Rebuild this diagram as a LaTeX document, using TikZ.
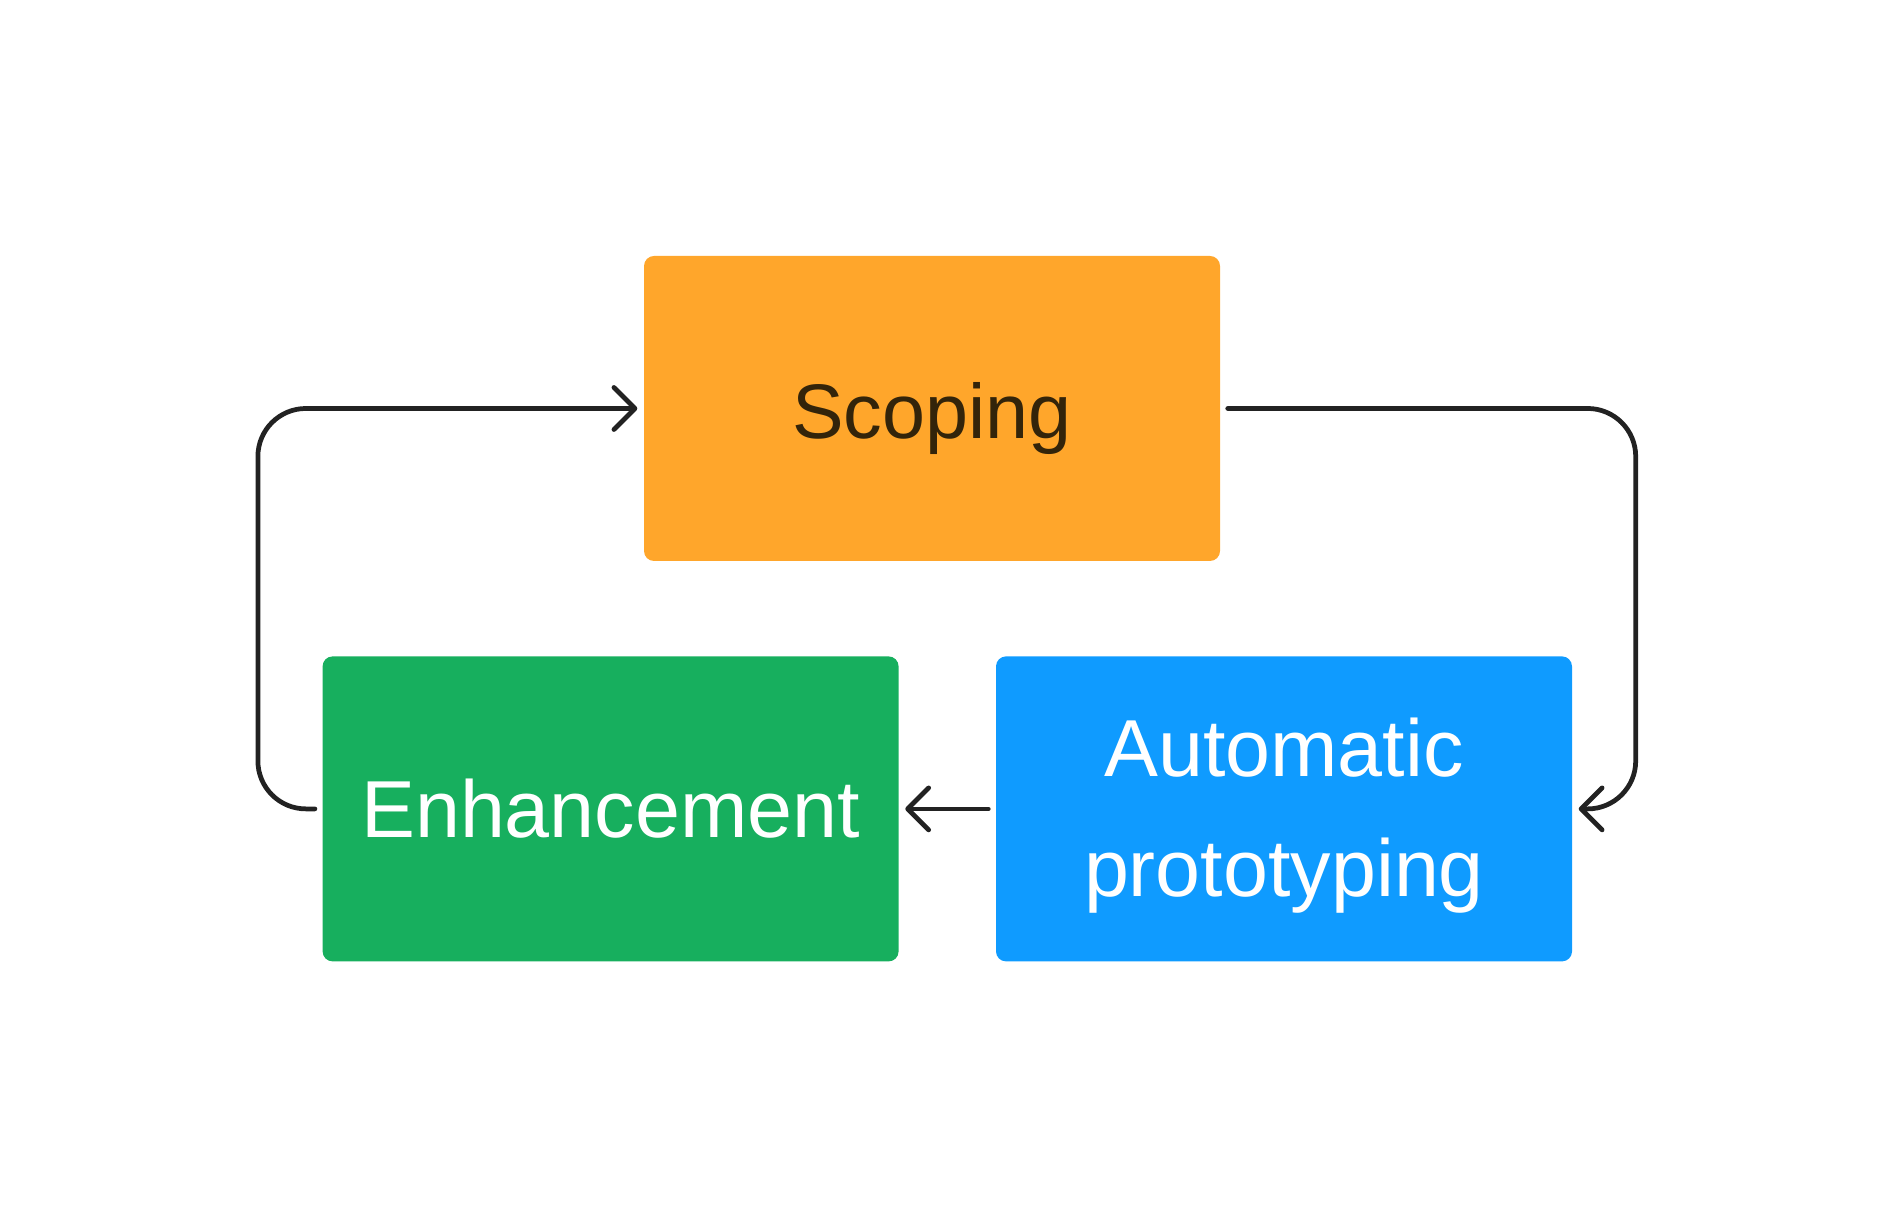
\documentclass[tikz,border=0pt]{standalone}
\usepackage{fontspec}
\setmainfont{Liberation Sans}
\usepackage{xcolor}
\usepackage{tikz}
\usetikzlibrary{arrows.meta,positioning}
\definecolor{ScopeOrange}{HTML}{FFA62B}
\definecolor{ProtoBlue}{HTML}{0F9BFF}
\definecolor{EnhGreen}{HTML}{17AF5E}
\definecolor{InkDark}{HTML}{222222}
\definecolor{TextBrown}{HTML}{33240A}
\tikzset{
  BX/.style={rectangle,rounded corners=0.1cm,
             minimum width=5.76cm,minimum height=3.05cm,
             text centered,align=center,draw=none,inner sep=0pt,
             font=\fontsize{23}{34}\selectfont},
  nO/.style={BX,fill=ScopeOrange,text=TextBrown},
  nB/.style={BX,fill=ProtoBlue,text=white},
  nG/.style={BX,fill=EnhGreen,text=white},
  arr/.style={-{Straight Barb[length=0.21cm,width=0.42cm,round]},
              line width=1.35pt,draw=InkDark,line cap=round,
              shorten <=0.07cm,shorten >=0.06cm}
}
\begin{document}
\begin{tikzpicture}
  \useasboundingbox (0,0) rectangle (18.94,12.16);
  \node[nO,font=\fontsize{22}{34}\selectfont,text height=0.77cm,text depth=0.16cm] (scope) at (9.32,8.075) {Scoping};
  \node[nB,below=0.94cm of scope,xshift=3.52cm,text depth=0.03cm] (auto) {Automatic\\prototyping};
  \node[nG,left=0.96cm of auto] (enh) {Enhancement};

  \draw[arr,rounded corners=0.48cm]
    (scope.east) -| ([xshift=0.63cm]auto.east) -- (auto.east);
  \draw[arr](auto)--(enh);
  \draw[arr,rounded corners=0.48cm]
    (enh.west) -- ++(-0.64,0) |- (scope.west);
\end{tikzpicture}
\end{document}
